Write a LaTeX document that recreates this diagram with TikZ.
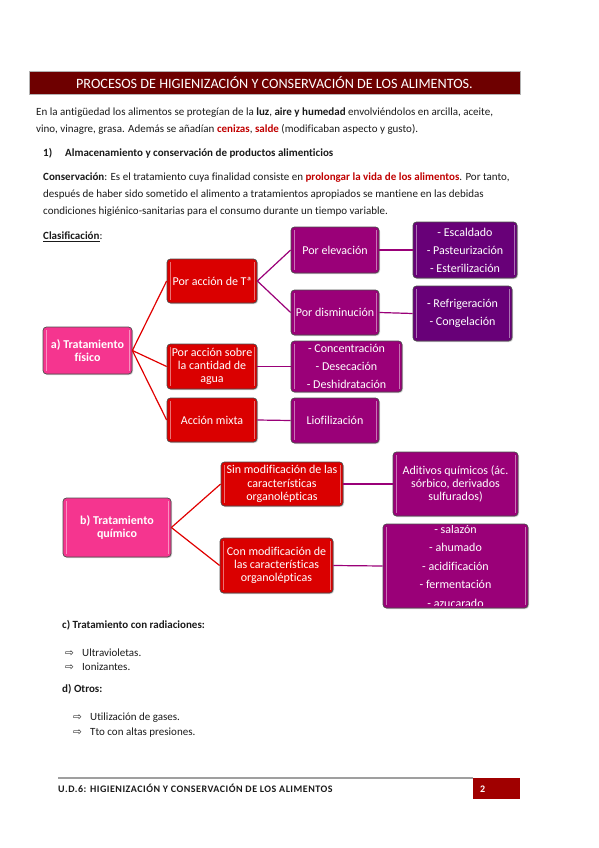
\documentclass[tikz,border=0pt]{standalone}
\usepackage{fontspec}
\setmainfont{Carlito}[Ligatures={TeX,NoCommon}]
\newfontfamily\footfont{Carlito}[LetterSpace=5,Ligatures=NoCommon]
\newfontfamily\dejavu{DejaVu Sans}
\usetikzlibrary{shadows}
\definecolor{titlered}{HTML}{6E0000}
\definecolor{txtred}{HTML}{C00000}
\definecolor{pinkbox}{HTML}{F5358F}
\definecolor{redbox}{HTML}{DA0000}
\definecolor{magbox}{HTML}{9A0078}
\definecolor{purbox}{HTML}{680078}
\definecolor{redline}{HTML}{E00000}
\definecolor{magline}{HTML}{9A0078}
\definecolor{footred}{HTML}{A00000}
\definecolor{bodytext}{HTML}{1A1A1A}
\tikzset{
 gloss/.style={path picture={
   \draw[white,opacity=0.45,line width=0.9pt]
     ([xshift=3pt,yshift=-3pt]path picture bounding box.north west) -- ([xshift=3pt,yshift=3pt]path picture bounding box.south west)
     ([xshift=-3pt,yshift=-3pt]path picture bounding box.north east) -- ([xshift=-3pt,yshift=3pt]path picture bounding box.south east);}},
 cbox/.style={rounded corners=3.5pt, draw=black!70, line width=0.7pt, gloss, text=white, align=center, inner sep=0pt,
   drop shadow={shadow xshift=1pt,shadow yshift=-1pt,fill=black!40,opacity=0.5}, font=\fontsize{12}{13.3}\selectfont},
 pinkb/.style={cbox, fill=pinkbox, font=\bfseries\fontsize{12}{13.3}\selectfont},
 redb/.style={cbox, fill=redbox},
 magb/.style={cbox, fill=magbox},
 purb/.style={cbox, fill=purbox},
 listb/.style={font=\fontsize{12}{18}\selectfont},
 redcon/.style={draw=redline, line width=1.2pt},
 magcon/.style={draw=magline, line width=1.2pt},
 bodyl/.style={anchor=base west, inner sep=0pt, font=\fontsize{11}{13}\selectfont, text=bodytext},
 bul/.style={anchor=base west, inner sep=0pt, font=\dejavu\fontsize{10.5}{11}\selectfont, text=bodytext},
}
\begin{document}
\begin{tikzpicture}[x=1pt,y=-1pt]
\useasboundingbox (0,0) rectangle (599,848);
% title
\node[fill=titlered, draw=gray!60, line width=0.8pt, minimum width=491pt, minimum height=23pt, inner sep=0pt,
      text=white, font=\fontsize{14.2}{15}\selectfont] (title) at (274.5,82.5) {PROCESOS DE HIGIENIZACIÓN Y CONSERVACIÓN DE LOS ALIMENTOS.};
% intro
\node[bodyl] (p1) at (36,115.5) {En la antigüedad los alimentos se protegían de la \textbf{luz}, \textbf{aire y humedad} envolviéndolos en arcilla, aceite,};
\node[bodyl] (p2) at (36,132.5) {vino, vinagre, grasa. Además se añadían \textbf{\color{txtred}cenizas}, \textbf{\color{txtred}salde} (modificaban aspecto y gusto).};
\node[bodyl] (h1n) at (43,156.5) {\textbf{1)}};
\node[bodyl] (h1) at (65,156.5) {\textbf{Almacenamiento y conservación de productos alimenticios}};
\node[bodyl] (c1) at (43,180.5) {\textbf{Conservación}: Es el tratamiento cuya finalidad consiste en \textbf{\color{txtred}prolongar la vida de los alimentos}. Por tanto,};
\node[bodyl] (c2) at (43,197.5) {después de haber sido sometido el alimento a tratamientos apropiados se mantiene en las debidas};
\node[bodyl] (c3) at (43,214.5) {condiciones higiénico-sanitarias para el consumo durante un tiempo variable.};
\node[bodyl] (cl) at (43,239.5) {\underline{\textbf{Clasificación}}:};
% diagram a
\node[pinkb, minimum width=89pt, minimum height=47pt] (fis) at (87.5,350.5) {a) Tratamiento\\físico};
\node[redb, minimum width=90pt, minimum height=44pt] (ta) at (212,281) {Por acción de Tª};
\node[redb, minimum width=90pt, minimum height=45pt] (agua) at (212,366.5) {Por acción sobre\\la cantidad de\\agua};
\node[redb, minimum width=90pt, minimum height=44pt] (mixta) at (212,420) {Acción mixta};
\node[magb, minimum width=88pt, minimum height=46pt] (elev) at (335,250) {Por elevación};
\node[magb, minimum width=88pt, minimum height=45pt] (dism) at (335,312.5) {Por disminución};
\node[magb, listb, minimum width=111pt, minimum height=51pt] (conc) at (346.5,366.5) {- Concentración\\- Desecación\\- Deshidratación};
\node[magb, minimum width=88pt, minimum height=45pt] (lio) at (335,420.5) {Liofilización};
\node[purb, listb, minimum width=104pt, minimum height=56pt] (esc) at (465,250) {- Escaldado\\- Pasteurización\\- Esterilización};
\node[purb, listb, minimum width=99pt, minimum height=55pt] (refr) at (462.5,313.5) {- Refrigeración\\- Congelación};
\draw[redcon] (fis.east) -- (ta.west);
\draw[redcon] (fis.east) -- (agua.west);
\draw[redcon] (fis.east) -- (mixta.west);
\draw[magcon] (ta.east) -- (elev.west);
\draw[magcon] (ta.east) -- (dism.west);
\draw[magcon] (elev.east) -- (esc.west);
\draw[magcon] (dism.east) -- (refr.west);
\draw[magcon] (agua.east) -- (conc.west);
\draw[magcon] (mixta.east) -- (lio.west);
% diagram b
\node[pinkb, minimum width=108pt, minimum height=59pt] (qui) at (117,527.5) {b) Tratamiento\\químico};
\node[redb, minimum width=122pt, minimum height=44pt] (sin) at (282,484) {Sin modificación de las\\características\\organolépticas};
\node[redb, minimum width=113pt, minimum height=55pt] (con) at (276.5,565.5) {Con modificación de\\las características\\organolépticas};
\node[magb, minimum width=125pt, minimum height=64pt] (adit) at (455.5,484) {Aditivos químicos (ác.\\sórbico, derivados\\sulfurados)};
\node[magb, minimum width=145pt, minimum height=84pt] (sala) at (455.5,566) {};
\begin{scope}
\clip (384,525) rectangle (527,605);
\node[text=white, align=center, inner sep=0pt, font=\fontsize{12}{18.5}\selectfont] (salat) at (455.5,566) {- salazón\\- ahumado\\- acidificación\\- fermentación\\- azucarado};
\end{scope}
\draw[redcon] (qui.east) -- (sin.west);
\draw[redcon] (qui.east) -- (con.west);
\draw[magcon] (sin.east) -- (adit.west);
\draw[magcon] (con.east) -- (sala.west);
% c, d
\node[bodyl] (ct) at (62,628.5) {\textbf{c) Tratamiento con radiaciones:}};
\node[bul] (b1) at (65,656.5) {⇨};
\node[bodyl] (u1) at (82,656.5) {Ultravioletas.};
\node[bul] (b2) at (65,670.5) {⇨};
\node[bodyl] (u2) at (82,670.5) {Ionizantes.};
\node[bodyl] (dt) at (62,692.5) {\textbf{d) Otros:}};
\node[bul] (b3) at (73,720.5) {⇨};
\node[bodyl] (u3) at (90,720.5) {Utilización de gases.};
\node[bul] (b4) at (73,735.5) {⇨};
\node[bodyl] (u4) at (90,735.5) {Tto con altas presiones.};
% footer
\coordinate (fl) at (58,778);
\coordinate (fr) at (473,778);
\draw[gray!75, line width=1.5pt] (fl) -- (fr);
\node[bodyl, font=\footfont\bfseries\fontsize{10}{11}\selectfont] (ft) at (58,792.5) {U.D.6: HIGIENIZACIÓN Y CONSERVACIÓN DE LOS ALIMENTOS};
\node[fill=footred, minimum width=47pt, minimum height=21pt, inner sep=0pt] (pg) at (496.5,788.5) {};
\node[anchor=base west, inner sep=0pt, text=white, font=\bfseries\fontsize{10}{11}\selectfont] (pgn) at (480,792.5) {2};
\end{tikzpicture}
\end{document}
